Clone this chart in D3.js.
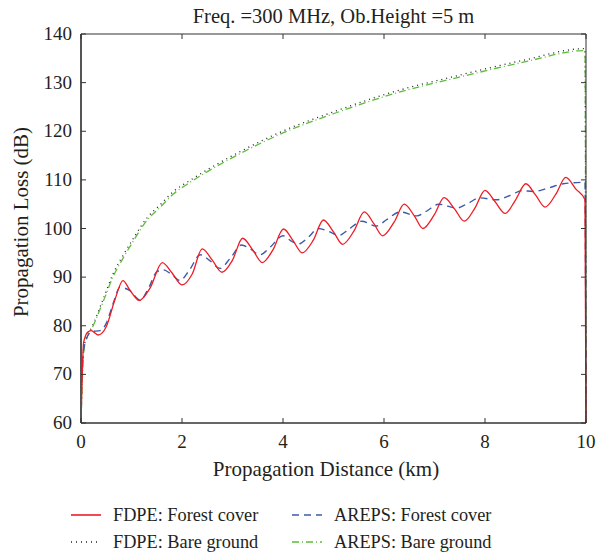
<!DOCTYPE html>
<html>
<head>
<meta charset="UTF-8">
<script src="https://d3js.org/d3.v7.min.js"></script>
<style>
body { margin: 0; background: white; }
text { font-family: "Liberation Serif", "Times New Roman", serif; fill: #231f20; }
</style>
</head>
<body>
<svg width="597" height="556"></svg>
<script>
// distance (km), loss (dB)
const fdpeForest = [
  [0,60],[0.02,68],[0.05,76.4],[0.1,78.2],[0.15,78.8],[0.2,79],[0.34,78.1],[0.5,79.8],
  [0.67,85.3],[0.83,89.3],[0.97,87.3],[1.15,85.2],[1.37,87.8],[1.61,93.0],[1.8,90.9],
  [2.0,88.4],[2.2,90.6],[2.4,95.8],[2.6,93.5],[2.79,91.0],[3.0,93.5],[3.2,98.0],
  [3.4,95.6],[3.59,93.0],[3.8,95.6],[4.01,99.9],[4.2,97.5],[4.38,95.0],[4.6,97.6],
  [4.8,101.75],[5.0,99.3],[5.18,96.75],[5.4,99.4],[5.61,103.4],[5.8,101.0],[5.97,98.5],
  [6.2,101.3],[6.4,105.0],[6.6,102.6],[6.77,100.0],[7.0,102.9],[7.19,106.35],[7.4,104.0],
  [7.59,101.5],[7.8,104.2],[8.0,107.85],[8.2,105.5],[8.4,103.1],[8.6,105.8],[8.81,109.2],
  [9.0,106.9],[9.19,104.4],[9.4,107.0],[9.6,110.5],[9.8,108.1],[9.98,105.9],[10,60]
]
const arepsForest = [
  [0,60],[0.01,69.5],[0.04,74],[0.08,76.4],[0.21,78.8],[0.38,79.0],[0.5,80.5],[0.65,85],
  [0.77,87.9],[0.97,87.2],[1.17,85.3],[1.35,88],[1.5,91.1],[1.63,91.5],[1.8,90.5],
  [1.96,89.3],[2.15,91.5],[2.36,94.6],[2.55,93.4],[2.75,91.8],[2.95,93.8],[3.18,96.6],
  [3.35,95.8],[3.54,94.6],[3.75,96.2],[4.0,98.5],[4.15,97.5],[4.3,96.8],[4.5,98.2],
  [4.7,100.0],[4.9,99.4],[5.11,98.6],[5.3,99.8],[5.56,101.5],[5.85,100.5],[6.05,101.8],
  [6.32,103.4],[6.65,102.6],[6.85,103.6],[7.08,105.0],[7.44,104.2],[7.65,105.1],
  [7.9,106.3],[8.23,105.9],[8.5,106.8],[8.73,107.8],[8.95,107.6],[9.25,108.3],
  [9.55,109.2],[9.98,109.5],[10,60]
]
const fdpeBare = [
  [0,60],[0.02,69],[0.05,75],[0.1,77.5],[0.21,79.6],[0.44,85.5],[0.64,90.8],[0.84,94.6],
  [1.04,98.0],[1.3,102.1],[1.56,104.8],[1.83,107.6],[2.16,109.9],[2.52,112.2],[3.15,115.8],
  [4.01,120.1],[5.0,124.0],[6.22,128.2],[7.44,131.4],[8.76,134.6],[9.98,137.0],[10,60]
]
const arepsBare = [
  [0,60],[0.02,67],[0.05,74],[0.1,77],[0.21,79.3],[0.44,85.0],[0.64,90.2],[0.84,94.0],
  [1.04,97.5],[1.3,101.6],[1.56,104.3],[1.83,107.1],[2.16,109.5],[2.52,111.8],[3.15,115.4],
  [4.01,119.7],[5.0,123.6],[6.22,127.8],[7.44,131.0],[8.76,134.2],[9.98,136.6],[10,60]
]
const xTicks = [0, 2, 4, 6, 8, 10]
const yTicks = [60, 70, 80, 90, 100, 110, 120, 130, 140]

const series = [
  {name: "FDPE: Forest cover", data: fdpeForest, color: "#ee1c25", dash: null, w: 1.3},
  {name: "FDPE: Bare ground", data: fdpeBare, color: "#231f20", dash: "1,4", w: 1.3},
  {name: "AREPS: Forest cover", data: arepsForest, color: "#3b5ba9", dash: "7,5", w: 1.4},
  {name: "AREPS: Bare ground", data: arepsBare, color: "#5cbf3a", dash: "7,3,1,3", w: 1.3}
]

const svg = d3.select("svg")
const mLeft = 81, mRight = 586, mTop = 34, mBottom = 423

const x = d3.scaleLinear().domain([0, 10]).range([mLeft, mRight])
const y = d3.scaleLinear().domain([60, 140]).range([mBottom, mTop])

svg.append("defs").append("clipPath").attr("id", "plotclip")
  .append("rect").attr("x", mLeft).attr("y", mTop - 1).attr("width", mRight - mLeft + 1).attr("height", mBottom - mTop + 2)

const line = d3.line().x(d => x(d[0])).y(d => y(d[1])).curve(d3.curveMonotoneX)

const plot = svg.append("g").attr("clip-path", "url(#plotclip)")
// draw bare ground first, then forest
;[series[1], series[3], series[2], series[0]].forEach(s => {
  plot.append("path")
    .attr("d", line(s.data))
    .attr("fill", "none")
    .attr("stroke", s.color)
    .attr("stroke-width", s.w)
    .attr("stroke-dasharray", s.dash)
})

// frame with inward ticks
const frame = svg.append("g")
frame.append("line").attr("x1", mLeft).attr("x2", mLeft).attr("y1", mTop).attr("y2", mBottom)
  .attr("stroke", "#555").attr("stroke-width", 2)
frame.append("line").attr("x1", mLeft).attr("x2", mRight).attr("y1", mBottom).attr("y2", mBottom)
  .attr("stroke", "#333").attr("stroke-width", 1.5)
frame.append("line").attr("x1", mLeft).attr("x2", mRight).attr("y1", mTop).attr("y2", mTop)
  .attr("stroke", "#333").attr("stroke-width", 1)
frame.append("line").attr("x1", mRight).attr("x2", mRight).attr("y1", mTop).attr("y2", mBottom)
  .attr("stroke", "#333").attr("stroke-width", 1)

const tickLen = 5
xTicks.forEach(t => {
  frame.append("line").attr("x1", x(t)).attr("x2", x(t)).attr("y1", mBottom).attr("y2", mBottom - tickLen)
    .attr("stroke", "#333").attr("stroke-width", 1)
  frame.append("line").attr("x1", x(t)).attr("x2", x(t)).attr("y1", mTop).attr("y2", mTop + tickLen)
    .attr("stroke", "#333").attr("stroke-width", 1)
  svg.append("text").attr("x", x(t)).attr("y", mBottom + 25)
    .attr("text-anchor", "middle").attr("font-size", 19).text(t)
})
yTicks.forEach(t => {
  frame.append("line").attr("x1", mLeft).attr("x2", mLeft + tickLen).attr("y1", y(t)).attr("y2", y(t))
    .attr("stroke", "#333").attr("stroke-width", 1)
  frame.append("line").attr("x1", mRight).attr("x2", mRight - tickLen).attr("y1", y(t)).attr("y2", y(t))
    .attr("stroke", "#333").attr("stroke-width", 1)
  svg.append("text").attr("x", mLeft - 9).attr("y", y(t) + 6)
    .attr("text-anchor", "end").attr("font-size", 19).text(t)
})

svg.append("text").attr("x", (mLeft + mRight) / 2).attr("y", 23)
  .attr("text-anchor", "middle").attr("font-size", 20.5)
  .text("Freq. =300 MHz, Ob.Height =5 m")

svg.append("text").attr("x", 326).attr("y", 476)
  .attr("text-anchor", "middle").attr("font-size", 21)
  .text("Propagation Distance (km)")

svg.append("text")
  .attr("transform", "translate(28,222) rotate(-90)")
  .attr("text-anchor", "middle").attr("font-size", 21)
  .text("Propagation Loss (dB)")

// legend
const legendPos = [[71, 515], [71, 542], [292, 515], [292, 542]]
series.forEach((s, i) => {
  const p = legendPos[i]
  svg.append("line").attr("x1", p[0]).attr("x2", p[0] + 30).attr("y1", p[1]).attr("y2", p[1])
    .attr("stroke", s.color).attr("stroke-width", s.w + 0.3).attr("stroke-dasharray", s.dash)
  svg.append("text").attr("x", p[0] + 42).attr("y", p[1] + 6)
    .attr("font-size", 18.3).text(s.name)
})
</script>
</body>
</html>
